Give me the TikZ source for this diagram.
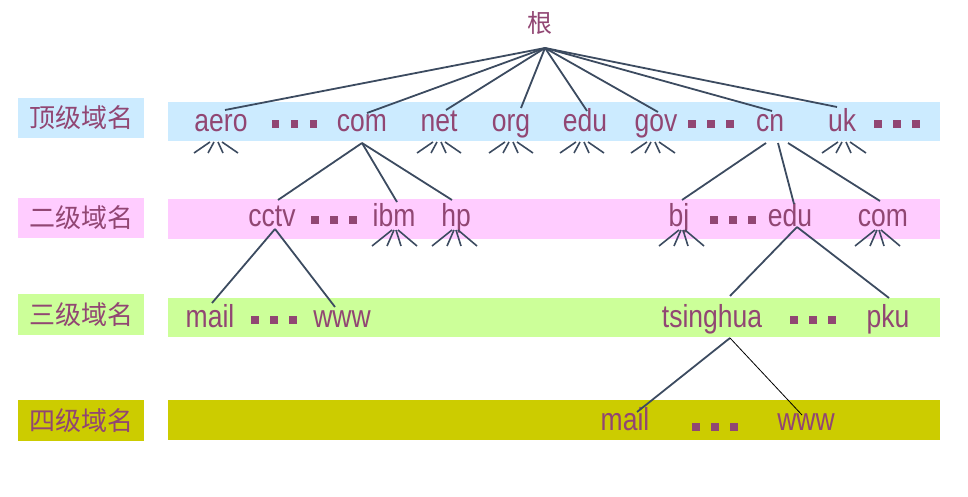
\documentclass[tikz,border=0pt]{standalone}
\usepackage{fontspec}
\usepackage{graphicx}
\setmainfont{Liberation Sans}
\newfontfamily\cjk{Noto Sans CJK SC}
\definecolor{txt}{RGB}{145,70,115}
\definecolor{ln}{RGB}{60,75,96}
\definecolor{bandA}{RGB}{204,235,255}
\definecolor{bandB}{RGB}{255,204,255}
\definecolor{bandC}{RGB}{204,255,153}
\definecolor{bandD}{RGB}{204,204,0}
\tikzset{
  lbl/.style={inner sep=0pt, anchor=base, text=txt, font=\fontsize{26.5}{30}\selectfont},
  cjklbl/.style={inner sep=0pt, text=txt, font=\cjk\fontsize{26}{30}\selectfont},
  conn/.style={draw=ln, line width=1.8pt},
  thinconn/.style={draw=black, line width=0.8pt},
  fanA/.pic={
    \draw[ln, line width=1.6pt] (-6,0) -- (-22,11) (-2,0) -- (-8,11) (2,0) -- (7,11) (6,0) -- (22,11);
  },
  fanB/.pic={
    \draw[ln, line width=1.6pt] (-3,0) -- (-23,16) (-1,0) -- (-8,16) (1,0) -- (6,16) (3,0) -- (22,16);
  },
  sqdots/.pic={
    \foreach \dx in {-19,0,19} \fill[txt] (\dx-3.7,-3.7) rectangle (\dx+3.7,3.7);
  }
}
\newcommand{\st}[1]{\scalebox{1}[1.2]{#1}}
\begin{document}
\begin{tikzpicture}[x=1pt,y=-1pt]
\useasboundingbox (0,0) rectangle (968,497);
% bands
\fill[bandA] (168,102) rectangle (940,141);
\fill[bandB] (168,199) rectangle (940,239);
\fill[bandC] (168,298) rectangle (940,337);
\fill[bandD] (168,400) rectangle (940,440);
% level labels
\fill[bandA] (18,98) rectangle (144,138);
\fill[bandB] (18,198) rectangle (144,238);
\fill[bandC] (18,294) rectangle (144,335);
\fill[bandD] (18,400) rectangle (144,441);
\node[cjklbl] (L1) at (81,118) {顶级域名};
\node[cjklbl] (L2) at (81,218) {二级域名};
\node[cjklbl] (L3) at (81,315) {三级域名};
\node[cjklbl] (L4) at (81,421) {四级域名};
% root
\node[cjklbl, font=\cjk\fontsize{25}{28}\selectfont] (root) at (540,23) {根};
% top level
\node[lbl] (aero) at (221,132) {\st{aero}};
\node[lbl] (com) at (362,132) {\st{com}};
\node[lbl] (net) at (439,132) {\st{net}};
\node[lbl] (org) at (511,132) {\st{org}};
\node[lbl] (edu) at (585,132) {\st{edu}};
\node[lbl] (gov) at (656,132) {\st{gov}};
\node[lbl] (cn) at (770,132) {\st{cn}};
\node[lbl] (uk) at (842,132) {\st{uk}};
\pic (d1) at (294.5,124) {sqdots};
\pic (d2) at (711,124) {sqdots};
\pic (d3) at (897,124) {sqdots};
% second level
\node[lbl] (cctv) at (272,226) {\st{cctv}};
\node[lbl] (ibm) at (394,226) {\st{ibm}};
\node[lbl] (hp) at (456,226) {\st{hp}};
\node[lbl] (bj) at (679,226) {\st{bj}};
\node[lbl] (edu2) at (790,226) {\st{edu}};
\node[lbl] (com2) at (883,226) {\st{com}};
\pic (d4) at (334,220) {sqdots};
\pic (d5) at (733,220) {sqdots};
% third level
\node[lbl] (mail3) at (210,327) {\st{mail}};
\node[lbl] (www3) at (342,327) {\st{www}};
\node[lbl] (tsinghua) at (712,327) {\st{tsinghua}};
\node[lbl] (pku) at (888,327) {\st{pku}};
\pic (d6) at (274,320) {sqdots};
\pic (d7) at (813,320) {sqdots};
% fourth level
\node[lbl] (mail4) at (625,430) {\st{mail}};
\node[lbl] (www4) at (806,430) {\st{www}};
\pic (d8) at (715,427) {sqdots};
% connector points
\coordinate (rootp) at (545,48);
\coordinate (aero-t) at (225,110);
\coordinate (com-t) at (367,113);
\coordinate (net-t) at (446,110);
\coordinate (org-t) at (521,108);
\coordinate (edu-t) at (587,111);
\coordinate (gov-t) at (658,112);
\coordinate (cn-t) at (772,111);
\coordinate (uk-t) at (837,107);
\coordinate (com-b) at (362,143);
\coordinate (cctv-t) at (278,200);
\coordinate (ibm-t) at (397,202);
\coordinate (hp-t) at (452,200);
\coordinate (cn-b1) at (766,143);
\coordinate (cn-b2) at (778,143);
\coordinate (cn-b3) at (788,143);
\coordinate (bj-t) at (682,200);
\coordinate (edu2-t) at (794,204);
\coordinate (com2-t) at (880,201);
\coordinate (cctv-b) at (275,229);
\coordinate (mail3-t) at (212,303);
\coordinate (www3-t) at (335,307);
\coordinate (edu2-b) at (797,227);
\coordinate (tsinghua-t) at (730,296);
\coordinate (pku-t) at (889,298);
\coordinate (tsinghua-b) at (730,338);
\coordinate (mail4-t) at (637,412);
\coordinate (www4-t) at (802,415);
% connectors
\foreach \n in {aero,com,net,org,edu,gov,cn,uk} \draw[conn] (rootp) -- (\n-t);
\draw[conn] (com-b) -- (cctv-t);
\draw[conn] (com-b) -- (ibm-t);
\draw[conn] (com-b) -- (hp-t);
\draw[conn] (cn-b1) -- (bj-t);
\draw[conn] (cn-b2) -- (edu2-t);
\draw[conn] (cn-b3) -- (com2-t);
\draw[conn] (cctv-b) -- (mail3-t);
\draw[conn] (cctv-b) -- (www3-t);
\draw[conn] (edu2-b) -- (tsinghua-t);
\draw[conn] (edu2-b) -- (pku-t);
\draw[conn] (tsinghua-b) -- (mail4-t);
\draw[thinconn] (tsinghua-b) -- (www4-t);
% fans
\foreach \x in {216,439,511,582,653,844} \pic at (\x,142) {fanA};
\foreach \x in {395,455,682,878} \pic at (\x,230) {fanB};
\end{tikzpicture}
\end{document}
